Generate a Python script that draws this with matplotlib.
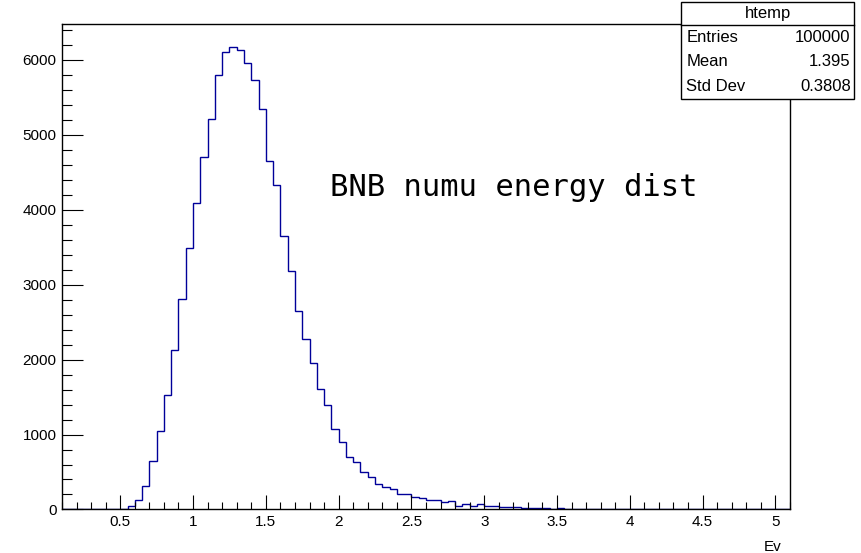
import numpy as np
import matplotlib
matplotlib.use("Agg")
import matplotlib.pyplot as plt
from matplotlib.ticker import MultipleLocator
from matplotlib.patches import Rectangle
from matplotlib.lines import Line2D

# ---- data (bin contents, bins of 0.05 from 0.1 to 5.1) ----
x_min = 0.1
x_max = 5.1
n_bins = 100
counts = [
    0, 0, 0, 0, 0, 0, 0, 0,                      # 0.10 - 0.50
    5, 40, 120, 316, 649, 1053, 1533, 2124,      # 0.50 - 0.90
    2804, 3484, 4084, 4698, 5213, 5800, 6102, 6169,  # 0.90 - 1.30
    6133, 5956, 5733, 5347, 4644, 4333, 3644, 3178,  # 1.30 - 1.70
    2653, 2280, 1956, 1609, 1400, 1076, 902, 702,    # 1.70 - 2.10
    631, 502, 427, 338, 302, 267, 213, 200,          # 2.10 - 2.50
    169, 151, 129, 124, 102, 111, 53, 76,            # 2.50 - 2.90
    53, 67, 53, 44, 36, 27, 27, 22,                  # 2.90 - 3.30
    25, 22, 20, 12, 14, 12, 10, 12,                  # 3.30 - 3.70
    9, 8, 6, 7, 6, 5, 5, 4,                          # 3.70 - 4.10
    4, 3, 4, 3, 2, 3, 2, 2,                          # 4.10 - 4.50
    1, 2, 1, 1, 1, 1, 0, 1,                          # 4.50 - 4.90
    0, 0, 1, 0,                                      # 4.90 - 5.10
]
x_label = "Ev"
annotation = "BNB numu energy dist"
stats_title = "htemp"
stats_names = ["Entries", "Mean", "Std Dev"]
stats_values = ["100000", "1.395", "0.3808"]

edges = np.linspace(x_min, x_max, n_bins + 1)
counts = np.array(counts, dtype=float)

plt.rcParams['font.family'] = ['Liberation Sans', 'DejaVu Sans']

fig = plt.figure(figsize=(8.61, 5.53), dpi=100)
ax = fig.add_axes([0.072, 0.0787, 0.9175 - 0.072, 0.9566 - 0.0787])

ax.stairs(counts, edges, color='#000099', linewidth=1.0, baseline=0)
ax.set_xlim(x_min, x_max)
ax.set_ylim(0, 1.05 * counts.max())

ax.xaxis.set_major_locator(MultipleLocator(0.5))
ax.xaxis.set_minor_locator(MultipleLocator(0.1))
ax.yaxis.set_major_locator(MultipleLocator(1000))
ax.yaxis.set_minor_locator(MultipleLocator(200))
ax.tick_params(axis='both', which='both', direction='in', top=False, right=False,
               labelsize=11, color='black', width=0.8)
ax.tick_params(axis='x', which='major', length=10, pad=4)
ax.tick_params(axis='x', which='minor', length=5)
ax.tick_params(axis='y', which='major', length=15, pad=4)
ax.tick_params(axis='y', which='minor', length=7.5)
ax.xaxis.set_major_formatter(matplotlib.ticker.FuncFormatter(lambda v, p: f"{v:g}"))
for s in ax.spines.values():
    s.set_linewidth(1.0)

ax.set_xlabel(x_label, fontsize=11)
ax.xaxis.set_label_coords(0.976, -0.062)

ax.text(1.94, 4300, annotation, fontsize=22, family='DejaVu Sans Mono',
        va='center', ha='left')

# ---- stats box ----
bl, br, bb, bt = 0.791, 0.992, 0.821, 0.9964
hy = 0.955
fig.add_artist(Rectangle((bl, bb), br - bl, bt - bb, transform=fig.transFigure,
                         facecolor='white', edgecolor='black', linewidth=1.0, zorder=10))
fig.add_artist(Line2D([bl, br], [hy, hy], transform=fig.transFigure,
                      color='black', linewidth=1.0, zorder=11))
fig.text((bl + br) / 2, (hy + bt) / 2, stats_title, ha='center', va='center',
         fontsize=12, zorder=12)
row_h = (hy - bb) / 3
for i, (n, v) in enumerate(zip(stats_names, stats_values)):
    yy = hy - row_h * (i + 0.5)
    fig.text(bl + 0.006, yy, n, ha='left', va='center', fontsize=12, zorder=12)
    fig.text(br - 0.004, yy, v, ha='right', va='center', fontsize=12, zorder=12)

fig.savefig("out.png", dpi=100)
